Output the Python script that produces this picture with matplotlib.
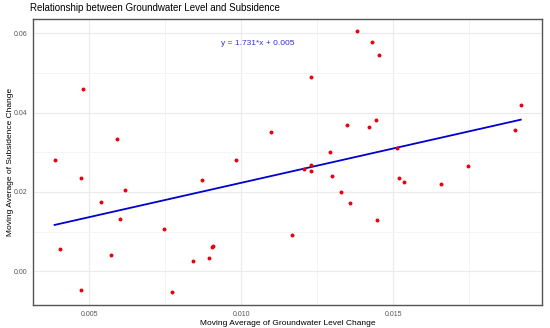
import numpy as np
import matplotlib.pyplot as plt

# moving averages
gw_change = [0.00386, 0.00403, 0.00480, 0.00472, 0.00472, 0.00539, 0.00570,
             0.00590, 0.00601, 0.00618, 0.00747, 0.00773, 0.00840, 0.00870,
             0.00895, 0.00905, 0.00908, 0.00982, 0.01097, 0.01168, 0.01206,
             0.01228, 0.01229, 0.01228, 0.01292, 0.01297, 0.01329, 0.01347,
             0.01358, 0.01382, 0.01420, 0.01429, 0.01442, 0.01445, 0.01453,
             0.01511, 0.01518, 0.01535, 0.01657, 0.01747, 0.01899, 0.01919]
sub_change = [0.02806, 0.00555, 0.04589, 0.02353, -0.00472, 0.01740, 0.00419,
              0.03328, 0.01326, 0.02042, 0.01067, -0.00530, 0.00267, 0.02310,
              0.00343, 0.00605, 0.00645, 0.02806, 0.03505, 0.00915, 0.02572,
              0.02529, 0.02680, 0.04907, 0.03016, 0.02410, 0.01992, 0.03689,
              0.01730, 0.06060, 0.03646, 0.05782, 0.03815, 0.01301, 0.05446,
              0.03117, 0.02353, 0.02244, 0.02194, 0.02655, 0.03563, 0.04186]

slope = 1.731
intercept = 0.005

plt.rcParams['font.family'] = ['Liberation Sans', 'DejaVu Sans']

x = np.array(gw_change)
y = np.array(sub_change)

fig = plt.figure(figsize=(5.5, 3.28), dpi=100)
ax = fig.add_axes([0.06, 0.0701, 0.9255, 0.872])

ax.scatter(x, y, s=8, color='#e8000b', zorder=3, linewidths=0)
xs = np.array([x.min(), x.max()])
ax.plot(xs, slope * xs + intercept, color='#0000cc', lw=1.3, zorder=2)

ax.set_xlim(0.00315, 0.01989)
ax.set_ylim(-0.0085, 0.0636)
ax.set_xticks([0.005, 0.010, 0.015])
ax.set_xticklabels(['0.005', '0.010', '0.015'])
ax.set_xticks([0.0075, 0.0125, 0.0175], minor=True)
ax.set_yticks([0.0, 0.02, 0.04, 0.06])
ax.set_yticklabels(['0.00', '0.02', '0.04', '0.06'])
ax.set_yticks([0.01, 0.03, 0.05], minor=True)
ax.grid(True, which='major', color='#ebebeb', lw=0.8)
ax.grid(True, which='minor', color='#f3f3f3', lw=0.6)
ax.set_axisbelow(True)
ax.tick_params(which='both', length=0, labelsize=5, labelcolor='#555555', pad=4)
for sp in ax.spines.values():
    sp.set_color('#555555')
    sp.set_linewidth(1.0)

ax.text(0.01055, 0.0573, 'y = 1.731*x + 0.005', color='#3333cc',
        fontsize=6, ha='center', va='center')

ax.set_xlabel('Moving Average of Groundwater Level Change', fontsize=6, labelpad=2)
ax.set_ylabel('Moving Average of Subsidence Change', fontsize=6, labelpad=0)
fig.text(30 / 550, 1 - 8 / 328, 'Relationship between Groundwater Level and Subsidence',
         fontsize=7, ha='left', va='center')

fig.savefig('out.png', dpi=100)
